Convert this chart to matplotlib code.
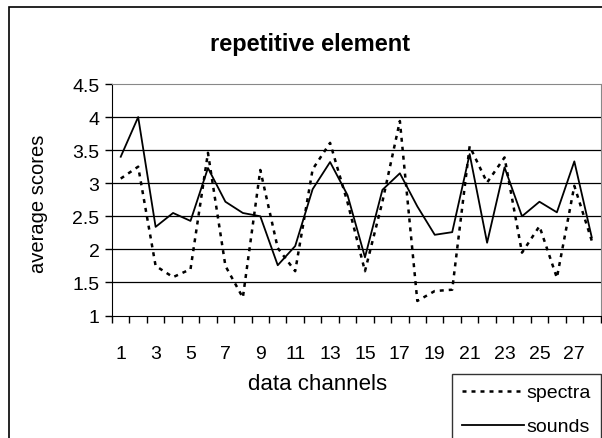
import matplotlib
matplotlib.use("Agg")
import matplotlib.pyplot as plt
from matplotlib.patches import Rectangle

plt.rcParams['font.family'] = ['Liberation Sans', 'DejaVu Sans']

# data
channels = list(range(1, 29))
spectra = [3.07, 3.25, 1.75, 1.58, 1.70, 3.46, 1.75, 1.27, 3.20, 2.02,
           1.67, 3.21, 3.61, 2.71, 1.67, 2.72, 3.94, 1.22, 1.37, 1.39,
           3.56, 3.01, 3.39, 1.95, 2.35, 1.57, 2.96, 2.13]
sounds = [3.40, 4.00, 2.34, 2.55, 2.43, 3.23, 2.72, 2.55, 2.50, 1.76,
          2.05, 2.91, 3.32, 2.82, 1.88, 2.90, 3.15, 2.65, 2.22, 2.26,
          3.44, 2.10, 3.24, 2.50, 2.72, 2.56, 3.33, 2.18]
xtick_labels = [str(c) for c in range(1, 28, 2)]
yticks = [1, 1.5, 2, 2.5, 3, 3.5, 4, 4.5]

W, H = 602, 439
fig = plt.figure(figsize=(W / 100, H / 100), dpi=100)

# outer chart border (runs off the right and bottom edges)
fig.patches.append(Rectangle((9 / W, -0.1), 1.2, 1.1 - 8 / H, transform=fig.transFigure,
                             fill=False, edgecolor='black', linewidth=1.2))

ax = fig.add_axes([112 / W, (H - 316.5) / H, 488.5 / W, 231.5 / H])

# horizontal gridlines
for y in yticks[1:-1]:
    ax.axhline(y, color='black', linewidth=0.9, zorder=1)

ax.plot(channels, spectra, color='black', linewidth=1.8, linestyle=(0, (1.6, 2.0)),
        label='spectra', zorder=3)
ax.plot(channels, sounds, color='black', linewidth=1.3, label='sounds', zorder=3)

ax.set_xlim(0.5, 28.5)
ax.set_ylim(1, 4.5)
ax.set_yticks(yticks)
ax.set_yticklabels(['1', '1.5', '2', '2.5', '3', '3.5', '4', '4.5'])

# category boundary ticks, labels on every other category
ax.set_xticks([c + 0.5 for c in range(0, 29)])
ax.set_xticklabels([])
ax.set_xticks(list(range(1, 28, 2)), minor=True)
ax.set_xticklabels(xtick_labels, minor=True)
ax.tick_params(axis='x', which='major', direction='out', length=5, width=1)
ax.tick_params(axis='x', which='minor', length=0, pad=21, labelsize=14)
ax.tick_params(axis='y', direction='out', length=5, width=1, labelsize=14, pad=4)

for side in ['top', 'right']:
    ax.spines[side].set_color('#888888')
for side in ['left', 'bottom']:
    ax.spines[side].set_color('black')

fig.text(310 / W, 1 - 45 / H, 'repetitive element', fontsize=17, fontweight='bold',
         ha='center', va='center')
fig.text(318 / W, 1 - 385 / H, 'data channels', fontsize=16, ha='center', va='center')
fig.text(38 / W, 1 - 204 / H, 'average scores', fontsize=14.5, rotation=90,
         ha='center', va='center')

leg = fig.legend(loc='upper left', bbox_to_anchor=(452 / W, 1 - 375 / H),
                 frameon=True, fancybox=False, edgecolor='black', fontsize=14,
                 handlelength=3.2, handletextpad=0.15, borderpad=0.5, labelspacing=0.85,
                 borderaxespad=0)
leg.get_frame().set_linewidth(1.0)

fig.savefig('out.png', dpi=100)
